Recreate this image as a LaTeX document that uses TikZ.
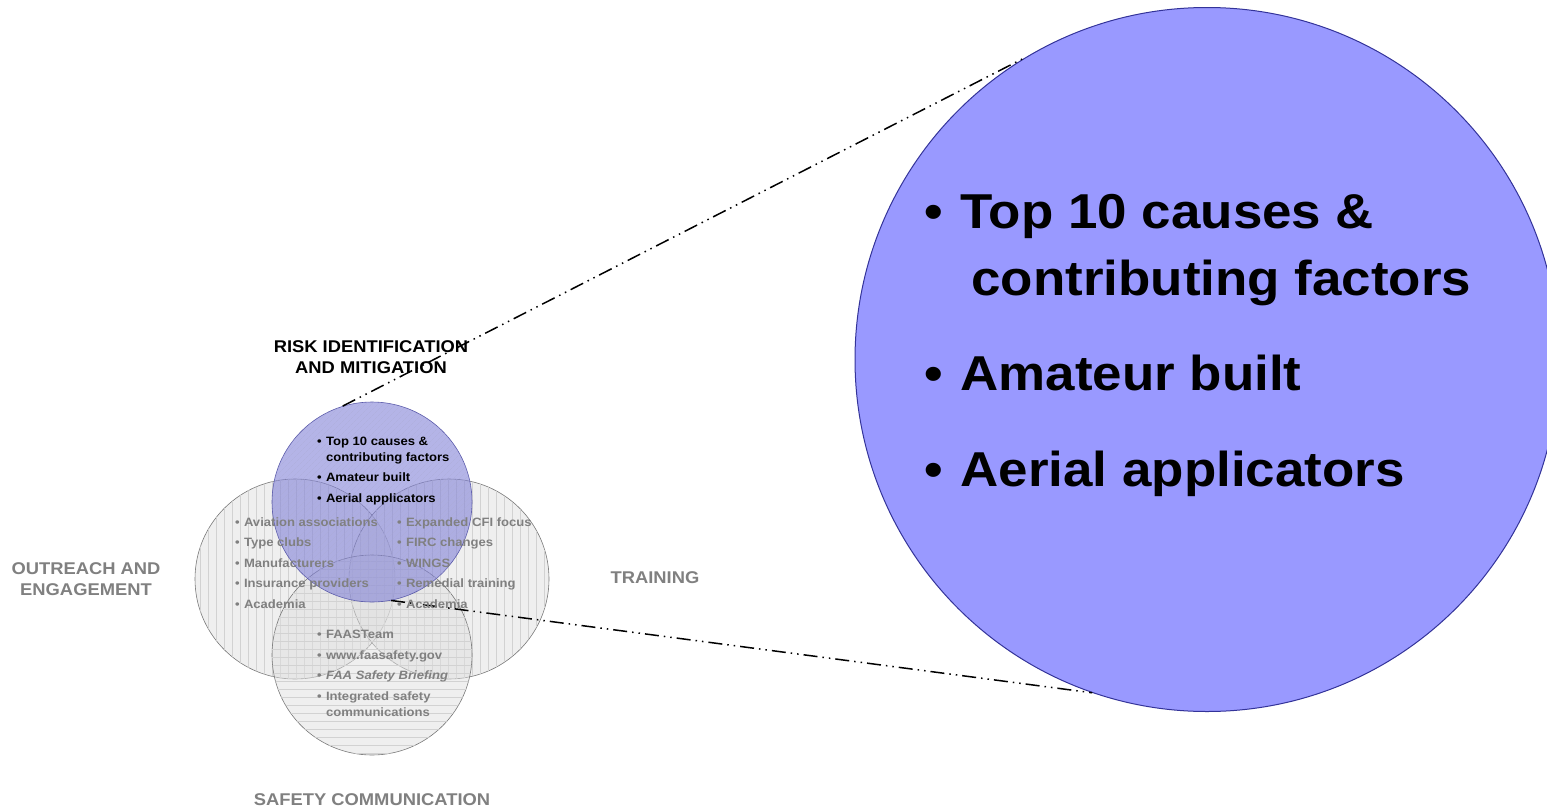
\documentclass[tikz,border=0pt]{standalone}
\usepackage{fontspec}
\setmainfont{Liberation Sans}[FakeStretch=1.08]
\usepackage{xcolor}
\usetikzlibrary{positioning,patterns.meta}

\definecolor{zoomblue}{RGB}{153,153,255}
\definecolor{zoomedge}{RGB}{51,51,153}
\definecolor{riskblue}{RGB}{130,130,215}
\definecolor{riskedge}{RGB}{90,90,170}
\definecolor{ringgray}{RGB}{120,120,120}
\definecolor{listgray}{RGB}{128,128,128}

% bullet with a fixed hanging indent
\newcommand{\bul}[1][9pt]{\makebox[#1][l]{•}}

\begin{document}
\begin{tikzpicture}[x=1pt, y=-1pt,
    every node/.style={font=\bfseries},
    venn/.style={circle, minimum size=200pt, inner sep=0pt, draw=ringgray, line width=0.6pt,
        fill=gray!25, fill opacity=0.5},
    vlines/.style={postaction={pattern={Lines[angle=90,distance=8pt,line width=0.5pt]}, pattern color=gray!35}},
    hlines/.style={postaction={pattern={Lines[angle=0,distance=8pt,line width=0.5pt]}, pattern color=gray!35}},
    small/.style={anchor=base west, align=left, font=\bfseries\fontsize{12.1}{20.5}\selectfont},
    lbl/.style={anchor=base, align=center, text=listgray, font=\bfseries\fontsize{17}{21}\selectfont},
    zoomline/.style={line width=1.5pt, dash pattern=on 14pt off 5pt on 1.5pt off 5pt on 1.5pt off 5pt}]
    \useasboundingbox (0,0) rectangle (1547,809);
    \clip (0,0) rectangle (1547,809);

    % the four areas
    \node[venn, vlines] (outreach) at (295,579) {};
    \node[venn, vlines] (training) at (449,579) {};
    \node[venn, hlines] (safecomm) at (372,655) {};
    \node[venn, draw=riskedge, fill=riskblue, fill opacity=0.6,
        postaction={pattern={Lines[angle=45,distance=4pt,line width=0.4pt]}, pattern color=riskedge!50}] (risk) at (372,502) {};

    % enlarged view
    \node[circle, minimum size=704pt, inner sep=0pt, draw=zoomedge, line width=1pt, fill=zoomblue] (zoomed) at (1207,359.5) {};

    \draw[zoomline] (risk.107) -- (zoomed.121.4);
    \draw[zoomline] (risk.-79) -- (zoomed.-109.1);

    % headings (anchored on the last line)
    \node[lbl, text=black] (risklbl) at (371,373) {RISK IDENTIFICATION\\AND MITIGATION};
    \node[lbl] (outlbl) at (86,595) {OUTREACH AND\\ENGAGEMENT};
    \node[lbl] (trainlbl) at (655,583) {TRAINING};
    \node[lbl] (safelbl) at (372,805) {SAFETY COMMUNICATION};

    % lists
    \node[small] (risklist) at (313.5,502) {\bul Top 10 causes \&\\[-4.5pt]
        \hspace*{9pt}contributing factors\\ \bul Amateur built\\ \bul Aerial applicators};
    \node[small, text=listgray] (outlist) at (231.5,608) {\bul Aviation associations\\ \bul Type clubs\\
        \bul Manufacturers\\ \bul Insurance providers\\ \bul Academia};
    \node[small, text=listgray] (trainlist) at (393.5,608) {\bul Expanded CFI focus\\ \bul FIRC changes\\
        \bul WINGS\\ \bul Remedial training\\ \bul Academia};
    \node[small, text=listgray] (safelist) at (313.5,716) {\bul FAASTeam\\ \bul www.faasafety.gov\\
        \bul \textit{FAA Safety Briefing}\\ \bul Integrated safety\\[-4.5pt] \hspace*{9pt}communications};

    \node[anchor=base west, align=left, font=\bfseries\fontsize{49}{95.5}\selectfont] (zoomlist) at (921,486)
        {\bul[36pt]Top 10 causes \&\\[-28.5pt] \hspace*{47pt}contributing factors\\
        \bul[36pt]Amateur built\\ \bul[36pt]Aerial applicators};
\end{tikzpicture}
\end{document}
